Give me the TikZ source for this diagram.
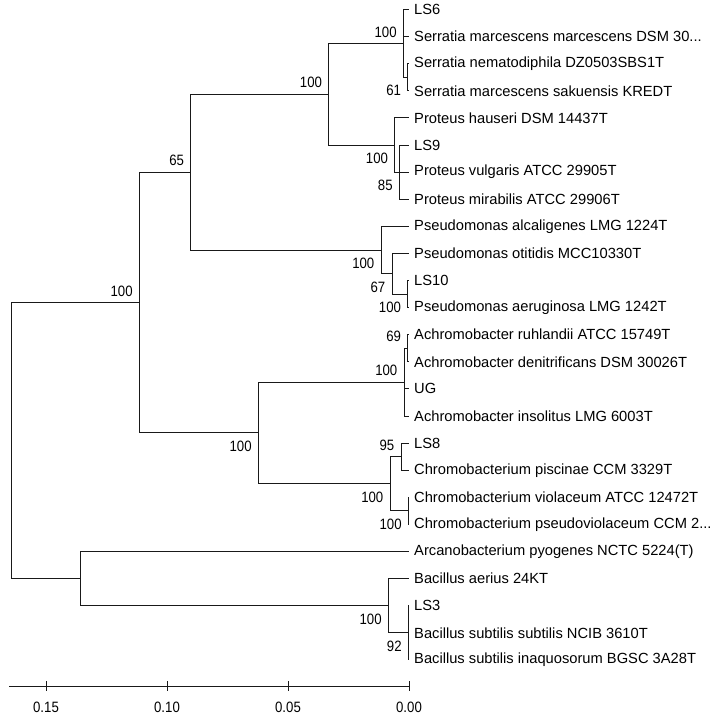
\documentclass[tikz,border=0pt]{standalone}
\usepackage{fontspec}
\setmainfont{Liberation Sans}
\newfontfamily\narrowfont[FakeStretch=0.88]{Liberation Sans}
\tikzset{
   leaf/.style={anchor=west, inner xsep=5pt, inner ysep=0pt, font=\fontsize{14.7}{18}\selectfont},
   bsup/.style={anchor=south east, inner sep=0pt, xshift=-6.5pt, yshift=6pt, font=\narrowfont\fontsize{15}{18}\selectfont},
   bsdown/.style={anchor=north east, inner sep=0pt, xshift=-6.5pt, yshift=-8pt, font=\narrowfont\fontsize{15}{18}\selectfont},
   ticklabel/.style={inner sep=0pt, font=\narrowfont\fontsize{15}{18}\selectfont},
   branch/.style={line width=1pt, black!90}
}
\begin{document}
\begin{tikzpicture}[x=1pt, y=-1pt]

   \useasboundingbox (0,0) rectangle (720,718);

   % leaves
   \node (LS6) at (409,9.5) [leaf] {LS6};
   \node (SerMM) at (409,36.6) [leaf] {Serratia marcescens marcescens DSM 30...};
   \node (SerNem) at (409,63.7) [leaf] {Serratia nematodiphila DZ0503SBS1T};
   \node (SerSak) at (409,90.8) [leaf] {Serratia marcescens sakuensis KREDT};
   \node (ProHau) at (409,117.9) [leaf] {Proteus hauseri DSM 14437T};
   \node (LS9) at (409,145.0) [leaf] {LS9};
   \node (ProVul) at (409,172.1) [leaf] {Proteus vulgaris ATCC 29905T};
   \node (ProMir) at (409,199.2) [leaf] {Proteus mirabilis ATCC 29906T};
   \node (PseAlc) at (409,226.3) [leaf] {Pseudomonas alcaligenes LMG 1224T};
   \node (PseOti) at (409,253.4) [leaf] {Pseudomonas otitidis MCC10330T};
   \node (LS10) at (409,280.5) [leaf] {LS10};
   \node (PseAer) at (409,307.6) [leaf] {Pseudomonas aeruginosa LMG 1242T};
   \node (AchRuh) at (409,334.7) [leaf] {Achromobacter ruhlandii ATCC 15749T};
   \node (AchDen) at (409,361.8) [leaf] {Achromobacter denitrificans DSM 30026T};
   \node (UG) at (409,388.9) [leaf] {UG};
   \node (AchIns) at (409,416.0) [leaf] {Achromobacter insolitus LMG 6003T};
   \node (LS8) at (409,443.1) [leaf] {LS8};
   \node (ChrPis) at (409,470.2) [leaf] {Chromobacterium piscinae CCM 3329T};
   \node (ChrVio) at (409,497.3) [leaf] {Chromobacterium violaceum ATCC 12472T};
   \node (ChrPse) at (409,524.4) [leaf] {Chromobacterium pseudoviolaceum CCM 2...};
   \node (ArcPyo) at (409,551.5) [leaf] {Arcanobacterium pyogenes NCTC 5224(T)};
   \node (BacAer) at (409,578.6) [leaf] {Bacillus aerius 24KT};
   \node (LS3) at (409,605.7) [leaf] {LS3};
   \node (BacSub) at (409,632.8) [leaf] {Bacillus subtilis subtilis NCIB 3610T};
   \node (BacIna) at (409,659.9) [leaf] {Bacillus subtilis inaquosorum BGSC 3A28T};

   % internal nodes
   \coordinate (Ser61) at (407.7,77.25);
   \coordinate (Serr) at (403.3,43.4);
   \coordinate (Pro85) at (399.3,172.1);
   \coordinate (Prot) at (394.7,145.0);
   \coordinate (SerPro) at (328.7,94.2);
   \coordinate (Pse100) at (407.7,294.05);
   \coordinate (Pse67) at (392,273.7);
   \coordinate (Pseu) at (381,250);
   \coordinate (Gam65) at (190.7,172.1);
   \coordinate (Ach69) at (407.7,348.25);
   \coordinate (Achr) at (404,382.1);
   \coordinate (Chr95) at (401,456.65);
   \coordinate (ChrViol) at (408.3,510.85);
   \coordinate (Chro) at (390,483.75);
   \coordinate (AchChr) at (258.3,432.9);
   \coordinate (Gram) at (139.3,302.5);
   \coordinate (Bac92) at (408.3,632.8);
   \coordinate (Baci) at (388.3,605.7);
   \coordinate (ArcBac) at (80.3,578.6);
   \coordinate (Root) at (11.7,440.55);

   % bootstrap values
   \node (bSer61) at (Ser61) [bsdown] {61};
   \node (bSerr) at (Serr) [bsup] {100};
   \node (bPro85) at (Pro85) [bsdown] {85};
   \node (bProt) at (Prot) [bsdown] {100};
   \node (bSerPro) at (SerPro) [bsup] {100};
   \node (bPse100) at (Pse100) [bsdown] {100};
   \node (bPse67) at (Pse67) [bsdown] {67};
   \node (bPseu) at (Pseu) [bsdown] {100};
   \node (bGam65) at (Gam65) [bsup] {65};
   \node (bAch69) at (Ach69) [bsup] {69};
   \node (bAchr) at (Achr) [bsup] {100};
   \node (bChr95) at (Chr95) [bsup] {95};
   \node (bChrViol) at (ChrViol) [bsdown] {100};
   \node (bChro) at (Chro) [bsdown] {100};
   \node (bAchChr) at (AchChr) [bsdown] {100};
   \node (bGram) at (Gram) [bsup] {100};
   \node (bBac92) at (Bac92) [bsdown] {92};
   \node (bBaci) at (Baci) [bsdown] {100};

   % branches
   \draw [branch] (Ser61) |- (SerNem.west);
   \draw [branch] (Ser61) |- (SerSak.west);
   \draw [branch] (Serr) |- (LS6.west);
   \draw [branch] (Serr) |- (SerMM.west);
   \draw [branch] (Serr) |- (Ser61);

   \draw [branch] (Pro85) |- (LS9.west);
   \draw [branch] (Pro85) |- (ProVul.west);
   \draw [branch] (Pro85) |- (ProMir.west);
   \draw [branch] (Prot) |- (ProHau.west);
   \draw [branch] (Prot) |- (Pro85);

   \draw [branch] (SerPro) |- (Serr);
   \draw [branch] (SerPro) |- (Prot);

   \draw [branch] (Pse100) |- (LS10.west);
   \draw [branch] (Pse100) |- (PseAer.west);
   \draw [branch] (Pse67) |- (PseOti.west);
   \draw [branch] (Pse67) |- (Pse100);
   \draw [branch] (Pseu) |- (PseAlc.west);
   \draw [branch] (Pseu) |- (Pse67);

   \draw [branch] (Gam65) |- (SerPro);
   \draw [branch] (Gam65) |- (Pseu);

   \draw [branch] (Ach69) |- (AchRuh.west);
   \draw [branch] (Ach69) |- (AchDen.west);
   \draw [branch] (Achr) |- (Ach69);
   \draw [branch] (Achr) |- (UG.west);
   \draw [branch] (Achr) |- (AchIns.west);

   \draw [branch] (Chr95) |- (LS8.west);
   \draw [branch] (Chr95) |- (ChrPis.west);
   \draw [branch] (ChrViol) |- (ChrVio.west);
   \draw [branch] (ChrViol) |- (ChrPse.west);
   \draw [branch] (Chro) |- (Chr95);
   \draw [branch] (Chro) |- (ChrViol);

   \draw [branch] (AchChr) |- (Achr);
   \draw [branch] (AchChr) |- (Chro);

   \draw [branch] (Gram) |- (Gam65);
   \draw [branch] (Gram) |- (AchChr);

   \draw [branch] (Bac92) |- (LS3.west);
   \draw [branch] (Bac92) |- (BacSub.west);
   \draw [branch] (Bac92) |- (BacIna.west);
   \draw [branch] (Baci) |- (BacAer.west);
   \draw [branch] (Baci) |- (Bac92);

   \draw [branch] (ArcBac) |- (ArcPyo.west);
   \draw [branch] (ArcBac) |- (Baci);

   \draw [branch] (Root) |- (Gram);
   \draw [branch] (Root) |- (ArcBac);

   % scale
   \coordinate (AxL) at (9,686);
   \coordinate (AxR) at (409,686);
   \draw [branch] (AxL) -- (AxR);

   \coordinate (T15) at (46,686);
   \coordinate (T10) at (167,686);
   \coordinate (T05) at (288,686);
   \coordinate (T00) at (409,686);
   \draw [branch] ([yshift=5pt]T15) -- ([yshift=-5pt]T15);
   \draw [branch] ([yshift=5pt]T10) -- ([yshift=-5pt]T10);
   \draw [branch] ([yshift=5pt]T05) -- ([yshift=-5pt]T05);
   \draw [branch] ([yshift=5pt]T00) -- ([yshift=-5pt]T00);

   \node (L15) at (46,707) [ticklabel] {0.15};
   \node (L10) at (167,707) [ticklabel] {0.10};
   \node (L05) at (288,707) [ticklabel] {0.05};
   \node (L00) at (409,707) [ticklabel] {0.00};

\end{tikzpicture}
\end{document}
